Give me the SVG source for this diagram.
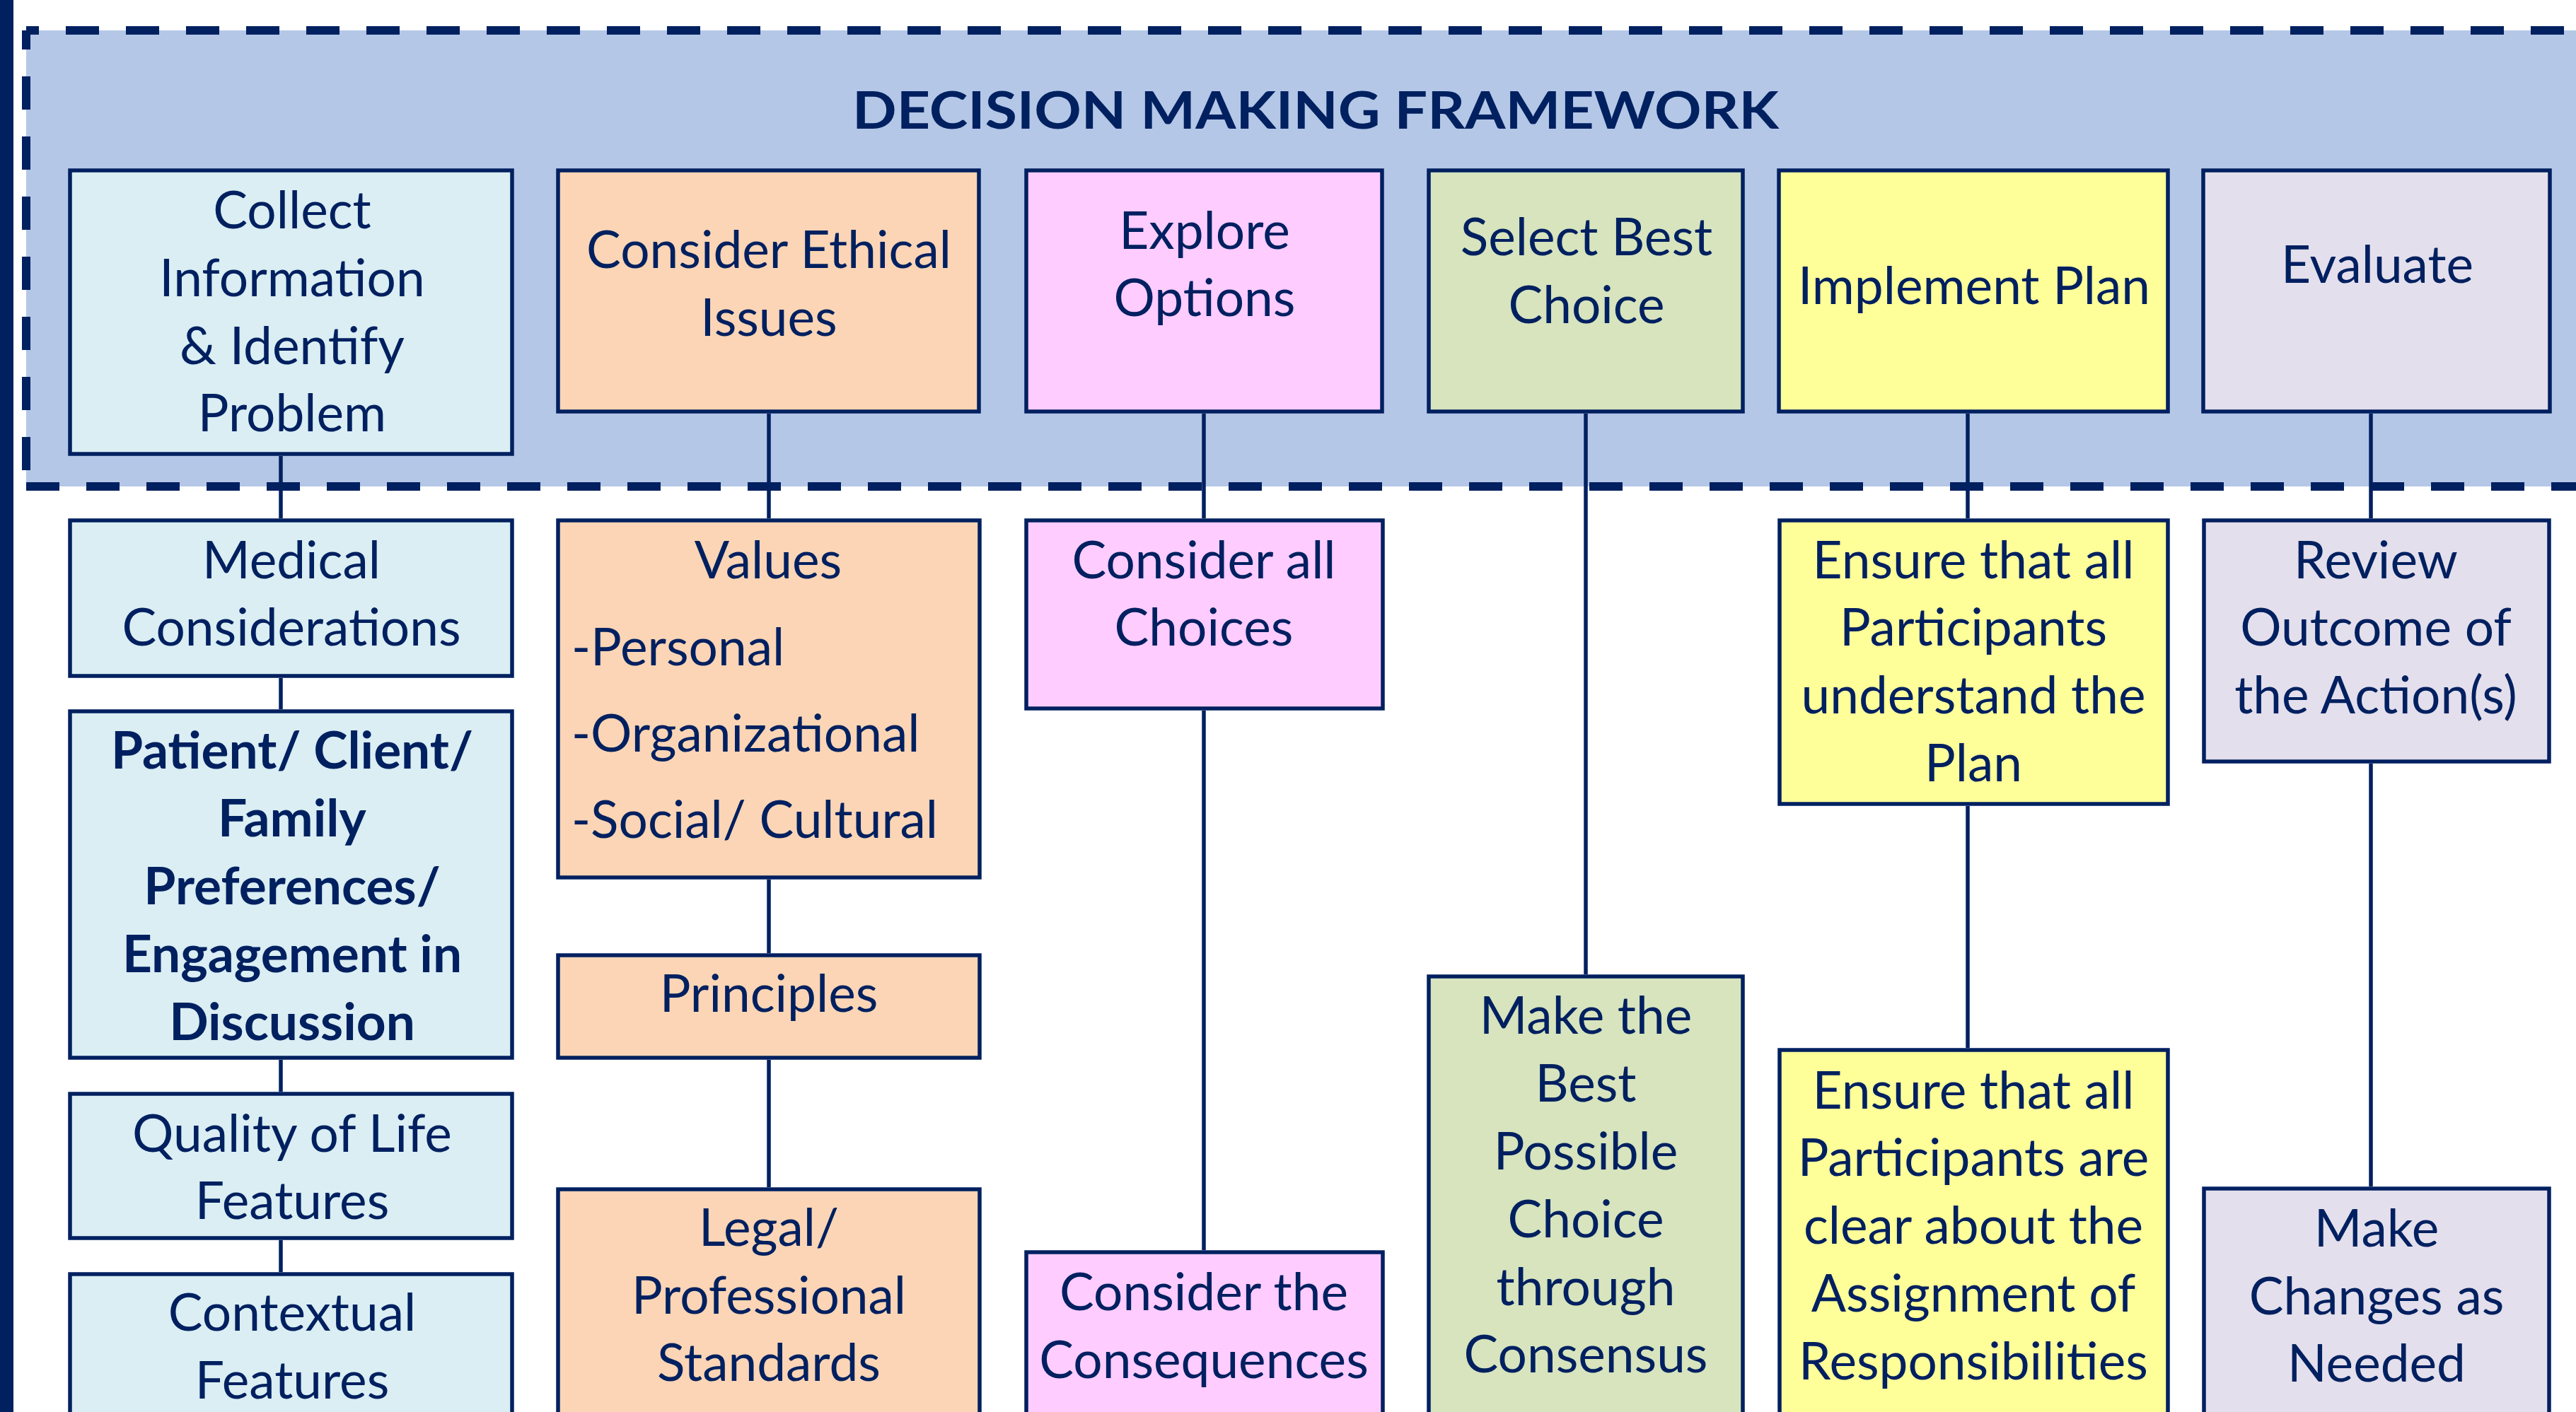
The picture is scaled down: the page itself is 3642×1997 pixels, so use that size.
<svg xmlns="http://www.w3.org/2000/svg" width="3642" height="1997" viewBox="0 0 3642 1997">
<style>
.box{stroke:#002060;stroke-width:5.5}
.conn{stroke:#002060;stroke-width:5.5;fill:none}
.dash{stroke:#002060;stroke-width:12;fill:none;stroke-dasharray:47 38}
text{font-family:Lato,"Liberation Sans",sans-serif;font-size:73px;fill:#002060;text-anchor:middle}
.b{font-weight:bold}
.l{text-anchor:start}
.c1{fill:#DAEEF3}.c2{fill:#FBD5B5}.c3{fill:#FFCCFF}.c4{fill:#D7E4BD}.c5{fill:#FFFF99}.c6{fill:#E4DFEC}
</style>
<rect x="0" y="0" width="3642" height="1997" fill="#FFFFFF"/>
<rect x="0" y="0" width="19" height="1997" fill="#002060"/>
<g id="framework">
<rect x="37" y="43" width="3650" height="645" fill="#B4C7E7"/>
<path class="dash" d="M37,43 V688" stroke-dashoffset="20"/>
<path class="dash" d="M37,43 H3660" stroke-dashoffset="29"/>
<path class="dash" d="M37,688 H3660"/>
<text class="b" x="1860" y="182" font-size="84" textLength="1310" lengthAdjust="spacingAndGlyphs">DECISION MAKING FRAMEWORK</text>
</g>
<g id="connectors">
<line class="conn" x1="397" y1="645" x2="397" y2="733"/>
<line class="conn" x1="397" y1="959" x2="397" y2="1003"/>
<line class="conn" x1="397" y1="1499" x2="397" y2="1544"/>
<line class="conn" x1="397" y1="1754" x2="397" y2="1799"/>
<line class="conn" x1="1087" y1="585" x2="1087" y2="733"/>
<line class="conn" x1="1087" y1="1244" x2="1087" y2="1348"/>
<line class="conn" x1="1087" y1="1499" x2="1087" y2="1679"/>
<line class="conn" x1="1702" y1="585" x2="1702" y2="733"/>
<line class="conn" x1="1702" y1="1005" x2="1702" y2="1768"/>
<line class="conn" x1="2242" y1="585" x2="2242" y2="1378"/>
<line class="conn" x1="2782" y1="585" x2="2782" y2="733"/>
<line class="conn" x1="2782" y1="1140" x2="2782" y2="1482"/>
<line class="conn" x1="3352" y1="585" x2="3352" y2="733"/>
<line class="conn" x1="3352" y1="1080" x2="3352" y2="1678"/>
</g>
<g id="collect">
<rect class="box c1" x="99" y="241" width="625" height="401"/>
<text x="413" y="323">Collect</text>
<text x="413" y="419">Information</text>
<text x="413" y="515">&amp; Identify</text>
<text x="413" y="610">Problem</text>
</g>
<g id="ethical">
<rect class="box c2" x="789" y="241" width="595" height="341"/>
<text x="1087" y="379">Consider Ethical</text>
<text x="1087" y="475">Issues</text>
</g>
<g id="explore">
<rect class="box c3" x="1451" y="241" width="503" height="341"/>
<text x="1703" y="352">Explore</text>
<text x="1703" y="447">Options</text>
</g>
<g id="select">
<rect class="box c4" x="2020" y="241" width="444" height="341"/>
<text x="2243" y="361">Select Best</text>
<text x="2243" y="457">Choice</text>
</g>
<g id="implement">
<rect class="box c5" x="2515" y="241" width="550" height="341"/>
<text x="2791" y="430">Implement Plan</text>
</g>
<g id="evaluate">
<rect class="box c6" x="3115" y="241" width="490" height="341"/>
<text x="3361" y="400">Evaluate</text>
</g>
<g id="medical">
<rect class="box c1" x="99" y="736" width="625" height="220"/>
<text x="412" y="818">Medical</text>
<text x="412" y="913">Considerations</text>
</g>
<g id="patient">
<rect class="box c1" x="99" y="1006" width="625" height="490"/>
<text class="b" x="413" y="1087">Patient/ Client/</text>
<text class="b" x="413" y="1183">Family</text>
<text class="b" x="413" y="1279">Preferences/</text>
<text class="b" x="413" y="1375">Engagement in</text>
<text class="b" x="413" y="1471">Discussion</text>
</g>
<g id="quality">
<rect class="box c1" x="99" y="1547" width="625" height="204"/>
<text x="413" y="1629">Quality of Life</text>
<text x="413" y="1724">Features</text>
</g>
<g id="contextual">
<rect class="box c1" x="99" y="1802" width="625" height="250"/>
<text x="413" y="1882">Contextual</text>
<text x="413" y="1978">Features</text>
</g>
<g id="values">
<rect class="box c2" x="789" y="736" width="596" height="505"/>
<text x="1086" y="818">Values</text>
<text class="l" x="808" y="941">-Personal</text>
<text class="l" x="808" y="1063">-Organizational</text>
<text class="l" x="808" y="1185">-Social/ Cultural</text>
</g>
<g id="principles">
<rect class="box c2" x="789" y="1351" width="596" height="145"/>
<text x="1087" y="1431">Principles</text>
</g>
<g id="legal">
<rect class="box c2" x="789" y="1682" width="596" height="370"/>
<text x="1087" y="1762">Legal/</text>
<text x="1087" y="1858">Professional</text>
<text x="1087" y="1953">Standards</text>
</g>
<g id="choices">
<rect class="box c3" x="1451" y="736" width="504" height="266"/>
<text x="1702" y="818">Consider all</text>
<text x="1702" y="913">Choices</text>
</g>
<g id="consequences">
<rect class="box c3" x="1451" y="1771" width="504" height="280"/>
<text x="1702" y="1853">Consider the</text>
<text x="1702" y="1949">Consequences</text>
</g>
<g id="consensus">
<rect class="box c4" x="2020" y="1381" width="444" height="670"/>
<text x="2242" y="1462">Make the</text>
<text x="2242" y="1558">Best</text>
<text x="2242" y="1654">Possible</text>
<text x="2242" y="1750">Choice</text>
<text x="2242" y="1846">through</text>
<text x="2242" y="1941">Consensus</text>
</g>
<g id="understand">
<rect class="box c5" x="2516" y="736" width="549" height="401"/>
<text x="2790" y="818">Ensure that all</text>
<text x="2790" y="913">Participants</text>
<text x="2790" y="1009">understand the</text>
<text x="2790" y="1105">Plan</text>
</g>
<g id="responsibilities">
<rect class="box c5" x="2516" y="1485" width="549" height="560"/>
<text x="2790" y="1568">Ensure that all</text>
<text x="2790" y="1663">Participants are</text>
<text x="2790" y="1759">clear about the</text>
<text x="2790" y="1855">Assignment of</text>
<text x="2790" y="1951">Responsibilities</text>
</g>
<g id="review">
<rect class="box c6" x="3116" y="736" width="488" height="341"/>
<text x="3359" y="818">Review</text>
<text x="3359" y="913">Outcome of</text>
<text x="3359" y="1009">the Action(s)</text>
</g>
<g id="changes">
<rect class="box c6" x="3116" y="1681" width="488" height="370"/>
<text x="3360" y="1763">Make</text>
<text x="3360" y="1859">Changes as</text>
<text x="3360" y="1954">Needed</text>
</g>
</svg>
